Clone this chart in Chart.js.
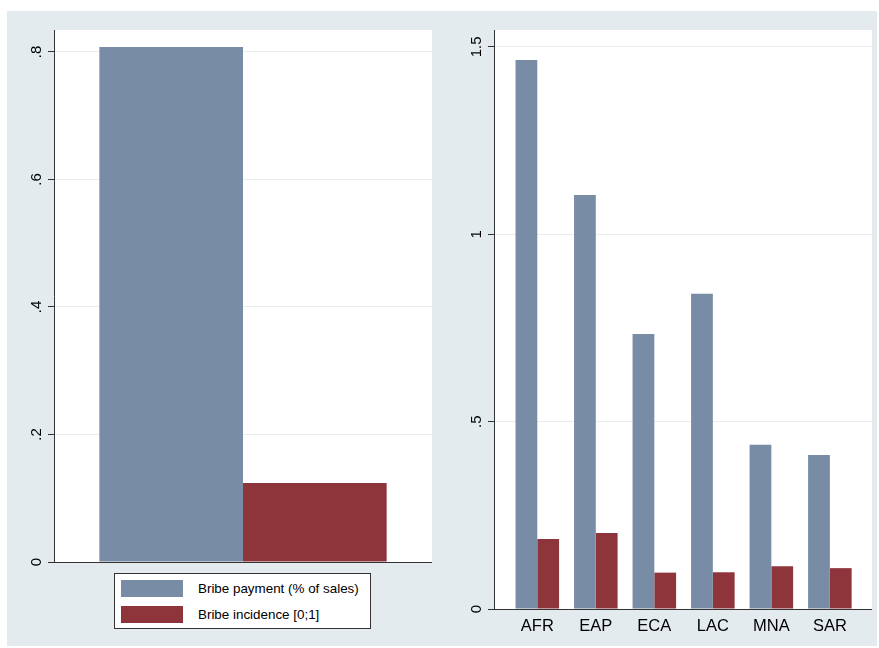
<!DOCTYPE html>
<html>
<head>
<meta charset="utf-8">
<script src="https://cdn.jsdelivr.net/npm/chart.js@4.4.1/dist/chart.umd.min.js"></script>
<style>
  body { margin: 0; background: #fff; width: 879px; height: 648px; overflow: hidden;
         font-family: "Liberation Sans", Arial, sans-serif; }
  #panel { position: absolute; left: 7px; top: 11px; width: 870px; height: 635px; background: #e4ebef; }
  canvas { position: absolute; top: 0; }
  #cLeft { left: 0; }
  #cRight { left: 440px; }
  #legend { position: absolute; left: 114px; top: 573px; width: 255px; height: 54px;
            border: 1px solid #333; background: #fff; }
  .sw { position: absolute; left: 6px; width: 62px; height: 17px; }
  .lbl { position: absolute; left: 83px; height: 17px; line-height: 17px; font-size: 13.4px; color: #000; white-space: nowrap; }
</style>
</head>
<body>
<div id="panel"></div>
<canvas id="cLeft" width="440" height="648"></canvas>
<canvas id="cRight" width="439" height="648"></canvas>
<div id="legend"></div>

<script>
// ---- data -----------------------------------------------------------
const seriesNames = ["Bribe payment (% of sales)", "Bribe incidence [0;1]"];

// left panel: all regions pooled
const overallPayment = [0.808];
const overallIncidence = [0.124];

// right panel: by region
const regions = ["AFR", "EAP", "ECA", "LAC", "MNA", "SAR"];
const regionPayment = [1.465, 1.105, 0.734, 0.841, 0.438, 0.411];
const regionIncidence = [0.187, 0.203, 0.097, 0.098, 0.114, 0.109];

// tick labels
const leftTickValues = [0, 0.2, 0.4, 0.6, 0.8];
const leftTickLabels = ["0", ".2", ".4", ".6", ".8"];
const rightTickValues = [0, 0.5, 1, 1.5];
const rightTickLabels = ["0", ".5", "1", "1.5"];

// ---- style ----------------------------------------------------------
const BLUE = "#788ca5";
const RED = "#8e353b";
const GRID = "#e6edf1";
const AXIS = "#333";

// white plot region
const plotBg = {
  id: "plotBg",
  beforeDraw(chart) {
    const { ctx, chartArea: a } = chart;
    ctx.save();
    ctx.fillStyle = "#fff";
    ctx.fillRect(a.left, a.top, a.right - a.left, a.bottom - a.top);
    ctx.restore();
  },
};

// rotated y tick labels (Stata style)
const yTickText = {
  id: "yTickText",
  afterDraw(chart, args, opts) {
    const { ctx, chartArea, scales: { y } } = chart;
    ctx.save();
    ctx.font = '15px "Liberation Sans", Arial, sans-serif';
    ctx.fillStyle = "#000";
    ctx.textAlign = "center";
    ctx.textBaseline = "middle";
    opts.values.forEach((v, i) => {
      ctx.save();
      ctx.translate(chartArea.left - 17, y.getPixelForValue(v));
      ctx.rotate(-Math.PI / 2);
      ctx.fillText(opts.labels[i], 0, 0);
      ctx.restore();
    });
    ctx.restore();
  },
};

function yScale(max, values) {
  return {
    min: 0,
    max,
    afterBuildTicks: (s) => { s.ticks = values.map((v) => ({ value: v })); },
    afterFit: (s) => { s.width = 6; },
    ticks: { display: false },
    grid: {
      color: (c) => (c.tick && c.tick.value === 0 ? AXIS : GRID),
      tickColor: AXIS,
      tickLength: 6,
    },
    border: { color: AXIS, width: 1 },
  };
}

// ---- left chart -----------------------------------------------------
new Chart(document.getElementById("cLeft"), {
  type: "bar",
  data: {
    labels: [""],
    datasets: [
      { label: seriesNames[0], data: overallPayment, backgroundColor: BLUE },
      { label: seriesNames[1], data: overallIncidence, backgroundColor: RED },
    ],
  },
  options: {
    responsive: false,
    animation: false,
    layout: { padding: { left: 48, right: 8, top: 30, bottom: 86 } },
    datasets: { bar: { categoryPercentage: 0.76, barPercentage: 1 } },
    plugins: {
      legend: { display: false },
      tooltip: { enabled: false },
      yTickText: { values: leftTickValues, labels: leftTickLabels },
    },
    scales: {
      x: { display: false },
      y: yScale(0.8345, leftTickValues),
    },
  },
  plugins: [plotBg, yTickText],
});

// ---- right chart ----------------------------------------------------
new Chart(document.getElementById("cRight"), {
  type: "bar",
  data: {
    datasets: [
      { label: seriesNames[0], data: regions.map((r, i) => ({ x: i, y: regionPayment[i] })), backgroundColor: BLUE },
      { label: seriesNames[1], data: regions.map((r, i) => ({ x: i, y: regionIncidence[i] })), backgroundColor: RED },
    ],
  },
  options: {
    responsive: false,
    animation: false,
    layout: { padding: { left: 48, right: 7, top: 30, bottom: 0 } },
    datasets: { bar: { categoryPercentage: 0.744, barPercentage: 1 } },
    plugins: {
      legend: { display: false },
      tooltip: { enabled: false },
      yTickText: { values: rightTickValues, labels: rightTickLabels },
    },
    scales: {
      x: {
        type: "linear",
        offset: false,
        min: -0.74,
        max: 5.72,
        afterBuildTicks: (s) => { s.ticks = regions.map((r, i) => ({ value: i })); },
        afterFit: (s) => { s.height = 39; },
        ticks: {
          callback: (v) => regions[v],
          font: { size: 16.5, family: '"Liberation Sans", Arial, sans-serif' },
          color: "#000",
          padding: 8,
          maxRotation: 0,
          autoSkip: false,
        },
        grid: { display: false, drawTicks: false },
        border: { display: false },
      },
      y: yScale(1.545, rightTickValues),
    },
  },
  plugins: [plotBg, yTickText],
});

// ---- legend (left panel) --------------------------------------------
const legend = document.getElementById("legend");
[BLUE, RED].forEach((col, i) => {
  const top = 6 + i * 26;
  legend.insertAdjacentHTML(
    "beforeend",
    `<div class="sw" style="top:${top}px;background:${col}"></div>
     <div class="lbl" style="top:${top}px">${seriesNames[i]}</div>`
  );
});
</script>
</body>
</html>
